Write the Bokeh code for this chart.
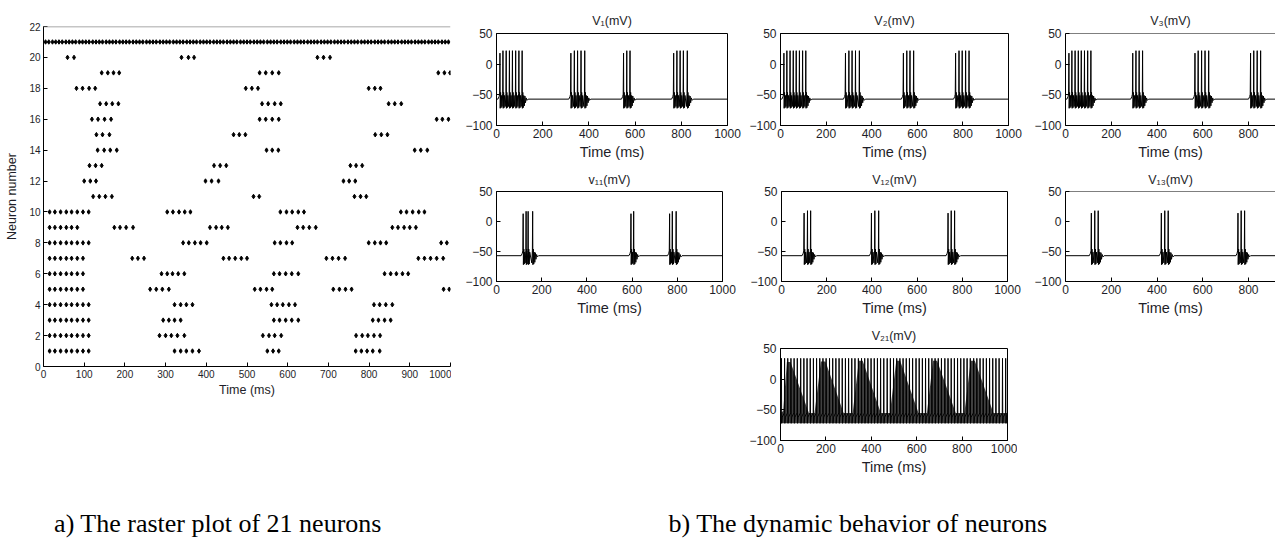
from bokeh.plotting import figure
from bokeh.layouts import row, column
from bokeh.models import Range1d, FixedTicker, Label, Span, ColumnDataSource, Spacer, Title
from bokeh.embed import file_html
from bokeh.resources import INLINE

# ---------------- data (spike times in ms) ----------------
spikes_01 = [15, 28, 42, 56, 69, 83, 97, 111, 322, 337, 351, 366, 382, 550, 564, 578, 767, 781, 795, 809, 826]
spikes_02 = [15, 28, 42, 56, 69, 83, 97, 111, 285, 300, 314, 329, 346, 539, 554, 568, 584, 768, 783, 797, 812, 827]
spikes_03 = [15, 28, 42, 56, 69, 83, 97, 111, 294, 308, 322, 337, 566, 580, 595, 610, 626, 809, 823, 838, 853]
spikes_04 = [15, 28, 42, 56, 69, 83, 97, 111, 322, 337, 351, 366, 560, 574, 588, 603, 618, 812, 826, 841, 857]
spikes_05 = [15, 28, 42, 56, 69, 83, 97, 262, 277, 292, 308, 519, 533, 548, 562, 712, 727, 742, 757, 983, 997]
spikes_06 = [15, 28, 42, 56, 69, 83, 97, 290, 304, 317, 331, 346, 566, 580, 595, 610, 626, 838, 853, 867, 882, 896]
spikes_07 = [15, 28, 42, 56, 69, 83, 97, 218, 232, 247, 442, 456, 471, 486, 500, 695, 710, 725, 741, 921, 936, 951, 966, 982]
spikes_08 = [15, 28, 42, 56, 69, 83, 97, 111, 343, 357, 372, 386, 401, 568, 582, 597, 611, 799, 814, 828, 842, 977, 991]
spikes_09 = [15, 28, 42, 56, 69, 83, 174, 188, 203, 220, 409, 424, 438, 453, 624, 638, 653, 669, 857, 871, 886, 900, 915]
spikes_10 = [15, 28, 42, 56, 69, 83, 97, 111, 304, 318, 333, 347, 361, 582, 597, 611, 626, 640, 878, 892, 907, 922, 936]
spikes_11 = [122, 137, 152, 168, 516, 530, 764, 779, 793]
spikes_12 = [100, 115, 129, 398, 413, 430, 737, 751, 766]
spikes_13 = [113, 128, 143, 419, 434, 449, 754, 768, 783]
spikes_14 = [133, 149, 164, 180, 548, 562, 577, 912, 927, 943]
spikes_15 = [130, 145, 162, 467, 481, 496, 815, 830, 845]
spikes_16 = [119, 134, 150, 166, 531, 546, 562, 578, 966, 980, 995]
spikes_17 = [139, 154, 169, 184, 537, 552, 568, 583, 848, 863, 879]
spikes_18 = [81, 96, 112, 127, 497, 512, 527, 799, 814, 828]
spikes_19 = [143, 158, 172, 186, 531, 546, 562, 578, 970, 985, 999]
spikes_20 = [59, 75, 339, 356, 370, 673, 688, 704]
spikes_21 = [5, 13, 22, 30, 38, 46, 55, 63, 71, 79, 88, 96, 104, 112, 121, 129, 137, 145, 154,
             162, 170, 178, 187, 195, 203, 211, 220, 228, 236, 244, 253, 261, 269, 277, 286,
             294, 302, 310, 319, 327, 335, 343, 352, 360, 368, 376, 385, 393, 401, 409, 418,
             426, 434, 442, 451, 459, 467, 475, 484, 492, 500, 508, 517, 525, 533, 541, 550,
             558, 566, 574, 583, 591, 599, 607, 616, 624, 632, 640, 649, 657, 665, 673, 682,
             690, 698, 706, 715, 723, 731, 739, 748, 756, 764, 772, 781, 789, 797, 805, 814,
             822, 830, 838, 847, 855, 863, 871, 880, 888, 896, 904, 913, 921, 929, 937, 946,
             954, 962, 970, 979, 987, 995]

# spike times of the traces as drawn in panel b (where they differ from the raster)
trace_spikes_11 = [118, 131, 140, 160, 595, 607, 766, 778, 795]
trace_spikes_21 = [4, 18, 32, 46, 60, 74, 89, 103, 117, 131, 145, 159, 173, 187, 201, 216, 230, 244,
                   258, 272, 286, 300, 314, 328, 343, 357, 371, 385, 399, 413, 427, 441, 455, 470,
                   484, 498, 512, 526, 540, 554, 568, 582, 597, 611, 625, 639, 653, 667, 681, 695,
                   709, 724, 738, 752, 766, 780, 794, 808, 822, 836, 851, 865, 879, 893, 907, 921,
                   935, 949, 963, 978, 992]

# peak voltages (mV) of the traced neurons
peak_v1, peak_v2, peak_v3 = 22, 22, 22
peak_v11, peak_v12, peak_v13 = 17, 18, 18
peak_v21, trough_v21 = 34, -72
rest_v = -57

# upper edge of the dark wedges in the V21 trace
v21_env_t = [0, 12, 28, 44, 125, 150, 178, 198, 278, 318, 345, 362, 442, 482, 510, 527, 608, 645, 672, 690, 772, 810, 838, 856, 938, 1000]
v21_env_v = [-55, -52, 28, 28, -55, -55, 29, 29, -55, -55, 30, 30, -55, -55, 30, 30, -55, -55, 30, 30, -55, -55, 30, 30, -55, -55]

raster_x_ticks = [0, 100, 200, 300, 400, 500, 600, 700, 800, 900, 1000]
raster_y_ticks = [0, 2, 4, 6, 8, 10, 12, 14, 16, 18, 20, 22]
panel_x_ticks = [0, 200, 400, 600, 800, 1000]
panel_y_ticks = [-100, -50, 0, 50]

caption_a = "a) The raster plot of 21 neurons"
caption_b = "b) The dynamic behavior of neurons"

all_spikes = [spikes_01, spikes_02, spikes_03, spikes_04, spikes_05, spikes_06, spikes_07,
              spikes_08, spikes_09, spikes_10, spikes_11, spikes_12, spikes_13, spikes_14,
              spikes_15, spikes_16, spikes_17, spikes_18, spikes_19, spikes_20, spikes_21]

FONT = "Liberation Sans"
TXT = "#1e1e28"


# ---------------- helpers ----------------
def burst_trace(times, peak):
    """Polyline of a bursting membrane potential built from spike times."""
    xs, ys = [0.0], [rest_v]
    times = sorted(times)
    for i, t in enumerate(times):
        prev = times[i - 1] if i > 0 else None
        nxt = times[i + 1] if i + 1 < len(times) else None
        first = prev is None or t - prev > 22
        if first:
            for dx, v in ((-9, rest_v), (-4, -53), (-1.5, -49)):
                if t + dx > xs[-1]:
                    xs.append(t + dx); ys.append(v)
        pk = peak - 4 if first else peak
        for dx, v in ((0, pk), (1.0, -72), (2.8, -46), (4.8, -71), (7.0, -51)):
            if t + dx > xs[-1]:
                xs.append(t + dx); ys.append(v)
        if nxt is not None and nxt - t <= 22:
            for dx, v in ((-4, -69), (-1.2, -48)):
                if nxt + dx > xs[-1]:
                    xs.append(nxt + dx); ys.append(v)
        else:
            for dx, v in ((9.5, -68), (12, -52), (14.5, -63), (17.5, -55), (21, -59), (26, rest_v)):
                xs.append(t + dx); ys.append(v)
    xs.append(1000.0); ys.append(rest_v)
    return xs, ys


def tonic_trace(times, peak, trough):
    xs, ys = [0.0], [-60.0]
    times = sorted(times)
    for i, t in enumerate(times):
        nxt = times[i + 1] if i + 1 < len(times) else 1000.0
        xs += [t, t + 1.2, t + 3.5, nxt - 1.0]
        ys += [peak, trough, -62, -55]
    return xs, ys


def style_axes(p, xt, yt, tick_px, lab_px):
    p.xaxis.ticker = FixedTicker(ticks=xt)
    p.yaxis.ticker = FixedTicker(ticks=yt)
    for ax in list(p.xaxis) + list(p.yaxis):
        ax.axis_line_color = "black"
        ax.major_tick_line_color = "black"
        ax.major_tick_in = 4
        ax.major_tick_out = 0
        ax.minor_tick_line_color = None
        ax.major_label_text_font = FONT
        ax.major_label_text_font_size = tick_px
        ax.major_label_text_color = TXT
        ax.axis_label_text_font = FONT
        ax.axis_label_text_font_size = lab_px
        ax.axis_label_text_font_style = "normal"
        ax.axis_label_text_color = TXT
    p.xgrid.visible = False
    p.ygrid.visible = False


def panel(width, height, left, right, top, bottom, title, standoff, xend=1000, boxed=True):
    p = figure(width=width, height=height, x_range=Range1d(0, xend), y_range=Range1d(-100, 50),
               output_backend="svg", toolbar_location=None,
               min_border_left=left, min_border_right=right, min_border_top=top,
               min_border_bottom=bottom)
    p.title = Title(text=title, align="center", text_font=FONT, text_font_size="12.5px",
                    text_font_style="normal", text_color=TXT, standoff=standoff)
    if not boxed:
        # keep the title centred on the full (uncut) panel width
        p.title.offset = 12
    style_axes(p, panel_x_ticks, panel_y_ticks, "12px", "14.5px")
    p.xaxis.axis_label = "Time (ms)"
    p.xaxis.major_label_standoff = 3
    p.xaxis.axis_label_standoff = 3
    p.yaxis.major_label_standoff = 4
    if boxed:
        p.outline_line_color = "black"
        p.outline_line_alpha = 1
    else:
        p.outline_line_color = None
        p.add_layout(Span(location=50, dimension="width", line_color="black", line_width=1))
    return p


# ---------------- raster plot ----------------
rx, ry = [], []
for n, s in enumerate(all_spikes, start=1):
    rx += s
    ry += [n] * len(s)
raster_src = ColumnDataSource(dict(t=rx, n=ry))

raster = figure(width=451, height=480, x_range=Range1d(0, 1000), y_range=Range1d(0, 22),
                output_backend="svg", toolbar_location=None, title=None,
                min_border_left=43, min_border_right=1, min_border_top=26, min_border_bottom=114)
style_axes(raster, raster_x_ticks, raster_y_ticks, "10px", "12.5px")
raster.xaxis.axis_label = "Time (ms)"
raster.yaxis.axis_label = "Neuron number"
raster.xaxis.major_label_standoff = 3
raster.xaxis.axis_label_standoff = 2
raster.yaxis.major_label_standoff = 3
raster.yaxis.axis_label_standoff = 7
raster.outline_line_color = None
raster.add_layout(Span(location=22, dimension="width", line_color="#8c8c8c", line_width=1.5))
raster.scatter(x="t", y="n", source=raster_src, marker="diamond", size=4.5,
               fill_color="black", line_color="black")

# ---------------- voltage panels ----------------
def draw_trace(p, xs, ys):
    p.line(x=xs, y=ys, line_color="black", line_width=1)


v1 = panel(293, 165, 45, 17, 33, 40, "V\u2081(mV)", 11)
draw_trace(v1, *burst_trace(spikes_01, peak_v1))

v2 = panel(285, 165, 36, 21, 33, 40, "V\u2082(mV)", 11)
draw_trace(v2, *burst_trace(spikes_02, peak_v2))

v3 = panel(246, 165, 36, 0, 33, 40, "V\u2083(mV)", 11, xend=918, boxed=False)
draw_trace(v3, *burst_trace(spikes_03, peak_v3))

v11 = panel(294, 155, 45, 23, 26, 39, "v\u2081\u2081(mV)", 9)
draw_trace(v11, *burst_trace(trace_spikes_11, peak_v11))

v12 = panel(284, 155, 36, 22, 26, 39, "V\u2081\u2082(mV)", 9)
draw_trace(v12, *burst_trace(spikes_12, peak_v12))

v13 = panel(246, 155, 36, 0, 26, 39, "V\u2081\u2083(mV)", 9, xend=918, boxed=False)
draw_trace(v13, *burst_trace(spikes_13, peak_v13))

v21 = panel(273, 160, 36, 10, 28, 40, "V\u2082\u2081(mV)", 11)
v21.varea(x=v21_env_t, y1=[trough_v21] * len(v21_env_t), y2=v21_env_v,
          fill_color="black", fill_alpha=0.75)
draw_trace(v21, *tonic_trace(trace_spikes_21, peak_v21, trough_v21))

# ---------------- captions ----------------
cap = figure(width=1275, height=60, x_range=Range1d(0, 1275), y_range=Range1d(0, 60),
             output_backend="svg", toolbar_location=None, title=None,
             min_border_left=0, min_border_right=0, min_border_top=0, min_border_bottom=0)
cap.axis.visible = False
cap.xgrid.visible = False
cap.ygrid.visible = False
cap.outline_line_color = None
for cx, txt in ((217.5, caption_a), (857.5, caption_b)):
    cap.add_layout(Label(x=cx, y=17, text=txt, text_align="center", text_baseline="middle",
                         text_font="Liberation Serif", text_font_size="26px", text_color="black"))

right = column(row(v1, v2, v3), row(v11, v12, v13), row(Spacer(width=293, height=160), v21))
layout = column(row(raster, right), cap)

open("out.html", "w").write(file_html(layout, INLINE))
